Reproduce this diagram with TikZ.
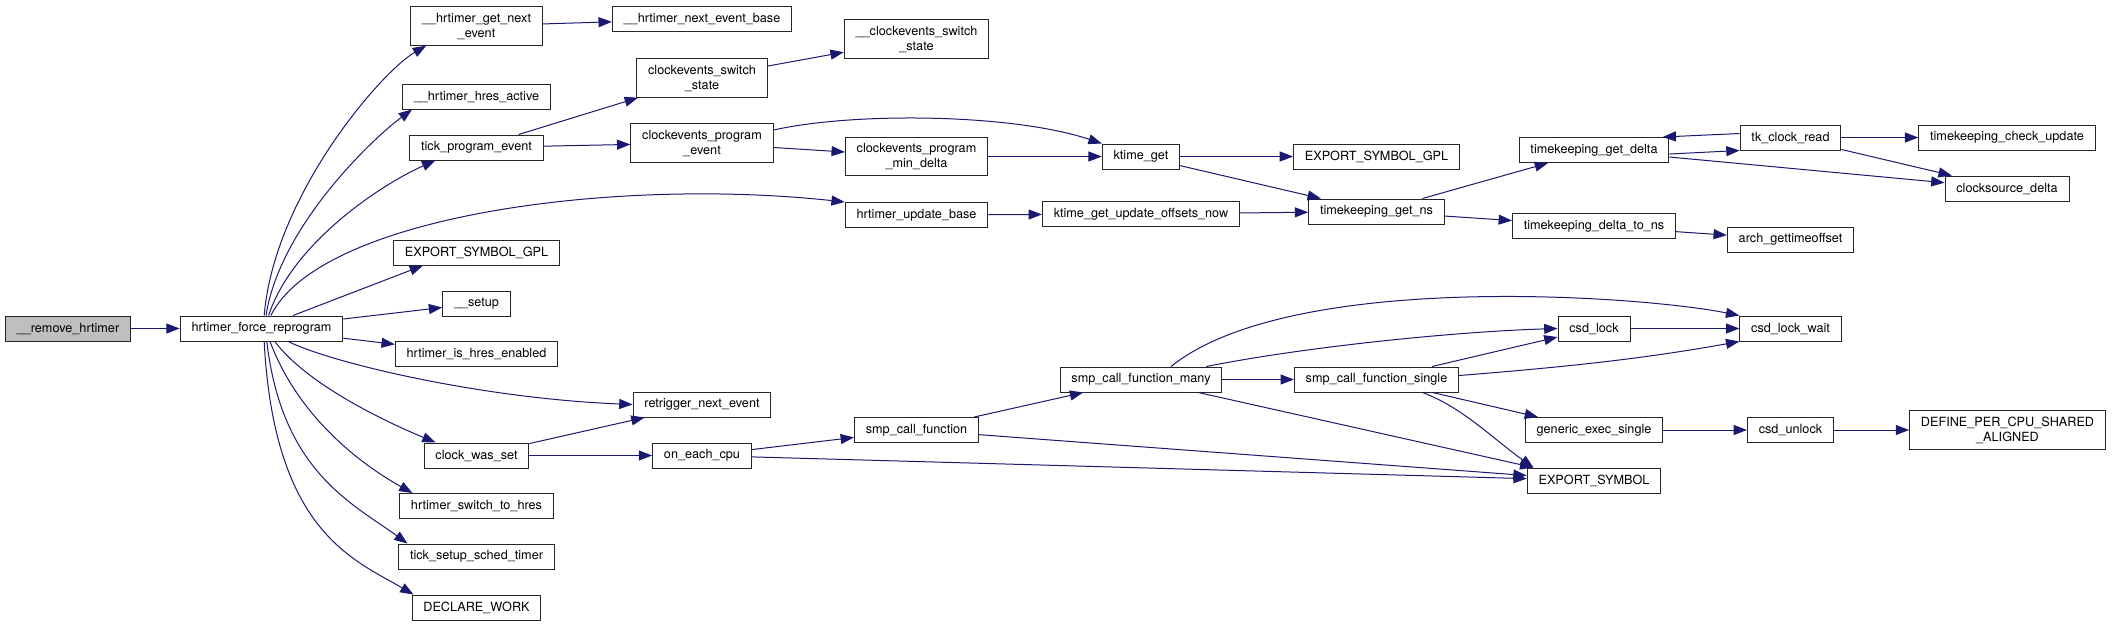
\documentclass[tikz,border=0pt]{standalone}
\usepackage{fontspec}
\setmainfont{TeX Gyre Heros}
\usepackage{xcolor}
\usetikzlibrary{arrows.meta}
\definecolor{edgeblue}{RGB}{25,25,112}

\begin{document}
\begin{tikzpicture}[
  x=0.75pt, y=-0.75pt,
  fn/.style={rectangle, draw=black!85, fill=white, line width=0.75pt,
             align=center, inner xsep=8.5pt, inner ysep=4.5pt, minimum height=18.75pt,
             font=\fontsize{9.5}{11.25}\selectfont},
  root/.style={fn, fill=black!25},
  call/.style={-{Triangle[length=10pt,width=7.5pt]}, line width=0.75pt, edgeblue},
]
\useasboundingbox (0,0) rectangle (2116,626);

% --- caller ---
\node[root] (remove) at (68,328.5) {\_\_remove\_hrtimer};
\node[fn] (force) at (261.5,328.5) {hrtimer\_force\_reprogram};

% --- direct callees ---
\node[fn] (getnext)    at (476.5,26)    {\_\_hrtimer\_get\_next\\\_event};
\node[fn] (hresactive) at (476.5,96.5)  {\_\_hrtimer\_hres\_active};
\node[fn] (tickprog)   at (476.5,147.5) {tick\_program\_event};
\node[fn] (expgpla)    at (476.5,252.5) {EXPORT\_SYMBOL\_GPL};
\node[fn] (setup)      at (476.5,303.5) {\_\_setup};
\node[fn] (hresen)     at (476.5,354)   {hrtimer\_is\_hres\_enabled};
\node[fn] (clockset)   at (476.5,455.5) {clock\_was\_set};
\node[fn] (switchhres) at (476.5,506)   {hrtimer\_switch\_to\_hres};
\node[fn] (schedtimer) at (476.5,556.5) {tick\_setup\_sched\_timer};
\node[fn] (declwork)   at (476.5,607.5) {DECLARE\_WORK};

% --- clockevents / hrtimer base ---
\node[fn] (nextbase) at (702,19)    {\_\_hrtimer\_next\_event\_base};
\node[fn] (cesw)     at (702,78)    {clockevents\_switch\\\_state};
\node[fn] (ceprog)   at (702,143)   {clockevents\_program\\\_event};
\node[fn] (retrig)   at (702,404.5) {retrigger\_next\_event};
\node[fn] (eachcpu)  at (702,455.5) {on\_each\_cpu};

\node[fn] (cesw2)   at (916.5,39)    {\_\_clockevents\_switch\\\_state};
\node[fn] (cemin)   at (916.5,156.5) {clockevents\_program\\\_min\_delta};
\node[fn] (updbase) at (916.5,215)   {hrtimer\_update\_base};
\node[fn] (smpcall) at (916.5,430)   {smp\_call\_function};

% --- ktime / smp ---
\node[fn] (ktimeget) at (1141,156.5) {ktime\_get};
\node[fn] (offsets)  at (1141,214)   {ktime\_get\_update\_offsets\_now};
\node[fn] (smpmany)  at (1141,379.5) {smp\_call\_function\_many};

\node[fn] (expgplb)   at (1376.5,156.5) {EXPORT\_SYMBOL\_GPL};
\node[fn] (tkns)      at (1376.5,211.5) {timekeeping\_get\_ns};
\node[fn] (smpsingle) at (1376.5,379.5) {smp\_call\_function\_single};

% --- timekeeping / csd ---
\node[fn] (tkdelta)   at (1594,150)   {timekeeping\_get\_delta};
\node[fn] (tkdeltans) at (1594,226)   {timekeeping\_delta\_to\_ns};
\node[fn] (csdlock)   at (1594,328.5) {csd\_lock};
\node[fn] (genexec)   at (1594,430)   {generic\_exec\_single};
\node[fn] (expsym)    at (1594,480.5) {EXPORT\_SYMBOL};

\node[fn] (tkread)    at (1790.5,137.5) {tk\_clock\_read};
\node[fn] (archoff)   at (1790.5,239.5) {arch\_gettimeoffset};
\node[fn] (csdwait)   at (1790.5,328.5) {csd\_lock\_wait};
\node[fn] (csdunlock) at (1790.5,430)   {csd\_unlock};

\node[fn] (tkcheck) at (2007,137.5) {timekeeping\_check\_update};
\node[fn] (cssrc)   at (2007,188.5) {clocksource\_delta};
\node[fn] (define)  at (2007.5,430) {DEFINE\_PER\_CPU\_SHARED\\\_ALIGNED};

% --- calls from the root ---
\draw[call] (remove) -- (force);
\draw[call] ([xshift=2pt]force.north) .. controls +(10,-120) and +(-45,26) .. ([xshift=12pt]getnext.south west);
\draw[call] ([xshift=3.4pt]force.north) .. controls +(14,-90) and +(-38,28) .. ([xshift=7.5pt]hresactive.south west);
\draw[call] ([xshift=5.3pt]force.north) .. controls +(25,-75) and +(-50,22) .. ([xshift=19.5pt]tickprog.south west);
\draw[call] ([xshift=7pt]force.north) .. controls +(50,-100) and +(-230,-25) .. (updbase.north west);
\draw[call] ([xshift=23.6pt]force.north) -- ([xshift=22.5pt]expgpla.south west);
\draw[call] (force) -- (setup);
\draw[call] (force) -- (hresen);
\draw[call] ([xshift=20pt]force.south) .. controls +(45,22) and +(-150,-6) .. (retrig.west);
\draw[call] ([xshift=10pt]force.south) .. controls +(30,40) and +(-60,-25) .. ([xshift=9pt]clockset.north west);
\draw[call] ([xshift=6.4pt]force.south) .. controls +(30,80) and +(-45,-25) .. ([xshift=10pt]switchhres.north west);
\draw[call] ([xshift=4pt]force.south) .. controls +(15,130) and +(-55,-40) .. ([xshift=7pt]schedtimer.north west);
\draw[call] ([xshift=2pt]force.south) .. controls +(10,190) and +(-60,-35) .. ([xshift=1.5pt]declwork.north west);

% --- clockevents ---
\draw[call] (getnext) -- (nextbase);
\draw[call] (tickprog) -- (cesw);
\draw[call] (tickprog) -- (ceprog);
\draw[call] (cesw) -- (cesw2);
\draw[call] ([yshift=9.75pt]ceprog.east) .. controls +(80,-18) and +(-90,-30) .. (ktimeget.north west);
\draw[call] (ceprog) -- (cemin);
\draw[call] (cemin) -- (ktimeget);
\draw[call] (updbase) -- (offsets);

% --- timekeeping ---
\draw[call] (ktimeget) -- (expgplb);
\draw[call] (ktimeget) -- (tkns);
\draw[call] (offsets) -- (tkns);
\draw[call] (tkns) -- (tkdelta);
\draw[call] (tkns) -- (tkdeltans);
\draw[call] ([yshift=-3pt]tkdelta.east) -- (tkread.south west);
\draw[call] ([yshift=3pt]tkread.west) -- ([xshift=-5pt]tkdelta.north east);
\draw[call] (tkdelta) -- (cssrc);
\draw[call] (tkread) -- (tkcheck);
\draw[call] (tkread) -- (cssrc);
\draw[call] (tkdeltans) -- (archoff);

% --- smp ---
\draw[call] (clockset) -- (retrig);
\draw[call] (clockset) -- (eachcpu);
\draw[call] (eachcpu) -- (smpcall);
\draw[call] (eachcpu) -- (expsym);
\draw[call] (smpcall) -- (smpmany);
\draw[call] (smpcall) -- (expsym);
\draw[call] (smpmany) -- (smpsingle);
\draw[call] ([xshift=-12pt]smpmany.north east) .. controls +(100,-20) and +(-100,3) .. (csdlock.west);
\draw[call] ([xshift=22.5pt]smpmany.north) .. controls +(119,-96) and +(-100,-20) .. (csdwait.north west);
\draw[call] ([xshift=43pt]smpmany.south) -- ([xshift=5pt]expsym.north west);
\draw[call] (smpsingle) -- (csdlock);
\draw[call] ([yshift=3pt]smpsingle.east) .. controls +(100,-8) and +(-100,18) .. (csdwait.south west);
\draw[call] (smpsingle) -- (genexec);
\draw[call] ([xshift=34.5pt]smpsingle.south) .. controls +(40,15) and +(-42,-30) .. ([xshift=5pt]expsym.north west);
\draw[call] (csdlock) -- (csdwait);
\draw[call] (genexec) -- (csdunlock);
\draw[call] (csdunlock) -- (define);

\end{tikzpicture}
\end{document}
